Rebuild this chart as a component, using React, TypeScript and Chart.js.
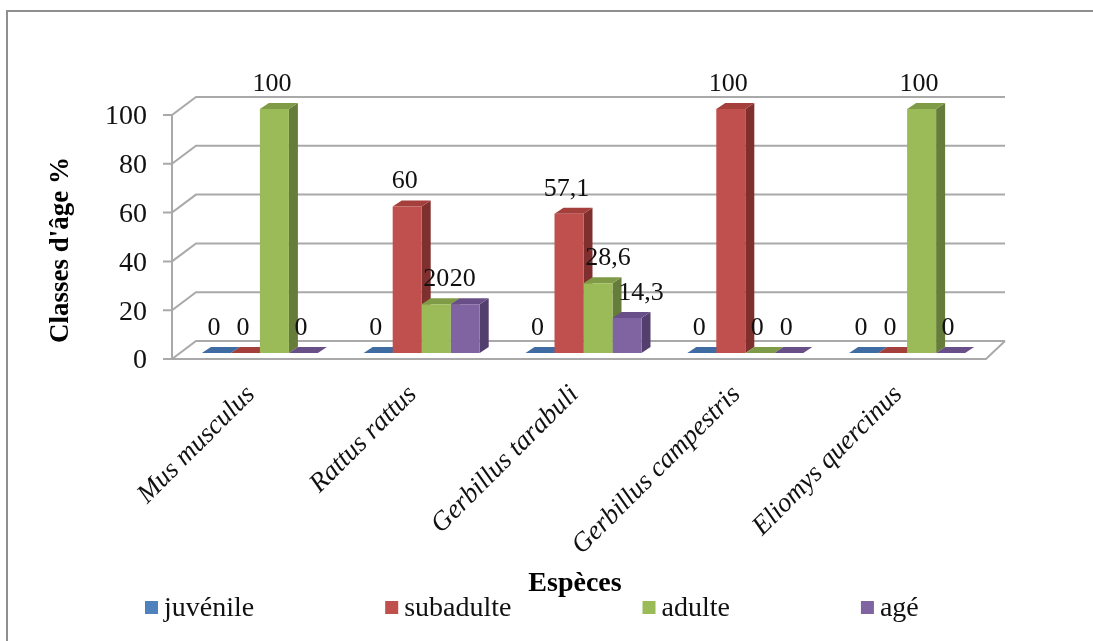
import React, { useEffect, useRef } from "react";
import { Chart, registerables } from "chart.js";

Chart.register(...registerables);

const species = ["Mus musculus", "Rattus rattus", "Gerbillus tarabuli", "Gerbillus campestris", "Eliomys quercinus"];
const juvenile = [0, 0, 0, 0, 0];
const subadulte = [0, 60, 57.1, 100, 0];
const adulte = [100, 20, 28.6, 0, 100];
const age = [0, 20, 14.3, 0, 0];
const yTicks = [0, 20, 40, 60, 80, 100];

const serif = "'Liberation Serif', 'Times New Roman', serif";
const frontColors = ["#4F81BD", "#C0504D", "#9BBB59", "#8064A2"];
const topColors = ["#3F6DA3", "#A53F3C", "#7F9B47", "#684F88"];
const sideColors = ["#2F5380", "#7F302E", "#667C3A", "#533F6E"];
const gridColor = "#a9a9a9";

// Depth of the bars and of the walls around them, in pixels.
const barDepth = { dx: 9, dy: -6 };
const wallBack = { dx: 17, dy: -12 };
const wallFront = { dx: -7, dy: 6 };
const floorRight = 5;

function polygon(ctx: CanvasRenderingContext2D, pts: number[][], fill: string) {
  ctx.fillStyle = fill;
  ctx.beginPath();
  pts.forEach(([x, y], i) => (i ? ctx.lineTo(x, y) : ctx.moveTo(x, y)));
  ctx.closePath();
  ctx.fill();
}

function line(ctx: CanvasRenderingContext2D, pts: number[][]) {
  ctx.beginPath();
  pts.forEach(([x, y], i) => (i ? ctx.lineTo(x, y) : ctx.moveTo(x, y)));
  ctx.stroke();
}

const frame = {
  id: "frame",
  beforeDraw(chart: any) {
    const { ctx, width, height } = chart;
    ctx.save();
    ctx.strokeStyle = "#8f8f8f";
    ctx.lineWidth = 2;
    line(ctx, [[7, height], [7, 11], [width, 11]]);
    ctx.restore();
  },
};

// Walls and floor of the 3D box, followed by the top and side faces of every bar.
const box3d = {
  id: "box3d",
  beforeDatasetsDraw(chart: any) {
    const { ctx, chartArea, scales } = chart;
    const { left, right } = chartArea;
    const y = scales.y;
    const zero = y.getPixelForValue(0);
    ctx.save();
    ctx.strokeStyle = gridColor;
    ctx.lineWidth = 2;
    yTicks.forEach((v) => {
      const py = y.getPixelForValue(v);
      const fx = left + wallFront.dx;
      const fy = py + wallFront.dy;
      line(ctx, [[fx - 9, fy], [fx, fy], [left + wallBack.dx, py + wallBack.dy], [right + wallBack.dx, py + wallBack.dy]]);
    });
    line(ctx, [[left + wallFront.dx, zero + wallFront.dy], [left + wallFront.dx, y.getPixelForValue(100) + wallFront.dy]]);
    line(ctx, [
      [left + wallFront.dx, zero + wallFront.dy],
      [right + wallFront.dx + floorRight, zero + wallFront.dy],
      [right + wallBack.dx, zero + wallBack.dy],
    ]);
    chart.data.datasets.forEach((_: any, d: number) => {
      chart.getDatasetMeta(d).data.forEach((bar: any) => {
        const x0 = bar.x - bar.width / 2;
        const x1 = bar.x + bar.width / 2;
        const { dx, dy } = barDepth;
        polygon(ctx, [[x1, bar.y], [x1 + dx, bar.y + dy], [x1 + dx, bar.base + dy], [x1, bar.base]], sideColors[d]);
        polygon(ctx, [[x0, bar.y], [x0 + dx, bar.y + dy], [x1 + dx, bar.y + dy], [x1, bar.y]], topColors[d]);
      });
    });
    ctx.restore();
  },
};

// Horizontal nudges of the value labels that would otherwise sit on their neighbours.
const labelNudges: Record<string, number> = { "2:1": 0, "2:2": 10, "3:2": 14 };

const valueLabels = {
  id: "valueLabels",
  afterDatasetsDraw(chart: any) {
    const { ctx } = chart;
    ctx.save();
    ctx.fillStyle = "#111";
    ctx.font = `26px ${serif}`;
    ctx.textAlign = "center";
    ctx.textBaseline = "middle";
    chart.data.datasets.forEach((ds: any, d: number) => {
      chart.getDatasetMeta(d).data.forEach((bar: any, i: number) => {
        const text = String(ds.data[i]).replace(".", ",");
        const nudge = labelNudges[`${d}:${i}`] ?? -2.5;
        ctx.fillText(text, bar.x + nudge, bar.y - 25);
      });
    });
    ctx.restore();
  },
};

const axisTitles = {
  id: "axisTitles",
  afterDraw(chart: any) {
    const { ctx } = chart;
    ctx.save();
    ctx.fillStyle = "#000";
    ctx.textAlign = "center";
    ctx.textBaseline = "middle";
    ctx.font = `bold 28px ${serif}`;
    ctx.fillText("Espèces", 575, 584);
    ctx.font = `bold 27px ${serif}`;
    ctx.translate(61, 250);
    ctx.rotate(-Math.PI / 2);
    ctx.fillText("Classes d'âge %", 0, 0);
    ctx.restore();
  },
};

// Legend row: evenly spaced swatch and label pairs.
const legendRow = {
  id: "legendRow",
  afterDraw(chart: any) {
    const { ctx } = chart;
    ctx.save();
    ctx.font = `28px ${serif}`;
    ctx.textBaseline = "middle";
    let x = 145;
    chart.data.datasets.forEach((ds: any, d: number) => {
      ctx.fillStyle = frontColors[d];
      ctx.fillRect(x, 601, 13, 13);
      ctx.fillStyle = "#111";
      ctx.fillText(ds.label, x + 19, 609);
      x += 19 + ctx.measureText(ds.label).width + 131;
    });
    ctx.restore();
  },
};

export default function App() {
  const ref = useRef<HTMLCanvasElement>(null);
  useEffect(() => {
    const chart = new Chart(ref.current!, {
      type: "bar",
      data: {
        labels: species,
        datasets: [
          { label: "juvénile", data: juvenile, backgroundColor: frontColors[0] },
          { label: "subadulte", data: subadulte, backgroundColor: frontColors[1] },
          { label: "adulte", data: adulte, backgroundColor: frontColors[2] },
          { label: "agé", data: age, backgroundColor: frontColors[3] },
        ],
      },
      options: {
        responsive: false,
        animation: false,
        layout: { padding: { top: 109, right: 105 } },
        datasets: { bar: { categoryPercentage: 0.717, barPercentage: 1 } },
        plugins: { legend: { display: false }, tooltip: { enabled: false } },
        scales: {
          x: {
            grid: { display: false },
            border: { display: false },
            afterFit: (s: any) => {
              s.height = 288;
            },
            ticks: {
              autoSkip: false,
              minRotation: 45,
              maxRotation: 45,
              padding: 18,
              labelOffset: -9,
              color: "#111",
              font: { family: serif, size: 27, style: "italic" },
            },
          },
          y: {
            min: 0,
            max: 100,
            grid: { display: false, drawTicks: false },
            border: { display: false },
            afterFit: (s: any) => {
              s.width = 179;
            },
            ticks: {
              stepSize: 20,
              padding: 32,
              labelOffset: 8,
              color: "#111",
              font: { family: serif, size: 28 },
            },
          },
        },
      } as any,
      plugins: [frame, box3d, valueLabels, axisTitles, legendRow],
    });
    return () => chart.destroy();
  }, []);
  return (
    <div style={{ position: "absolute", left: 0, top: 0 }}>
      <canvas ref={ref} width={1093} height={641} style={{ display: "block" }} />
    </div>
  );
}
